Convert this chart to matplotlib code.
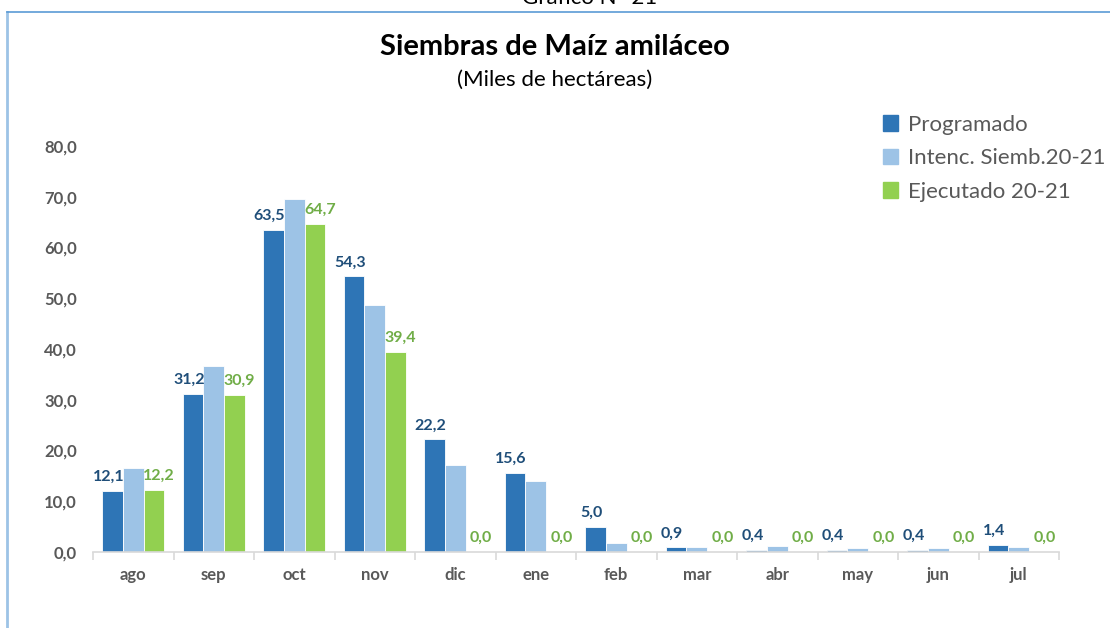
import matplotlib.pyplot as plt
import numpy as np
from matplotlib.patches import Patch

plt.rcParams['font.family'] = ['Lato', 'DejaVu Sans']

# data (miles de hectareas)
meses = ["ago", "sep", "oct", "nov", "dic", "ene", "feb", "mar", "abr", "may", "jun", "jul"]
programado = [12.1, 31.2, 63.5, 54.3, 22.2, 15.6, 5.0, 0.9, 0.4, 0.4, 0.4, 1.4]
intencion = [16.6, 36.7, 69.6, 48.7, 17.2, 14.0, 1.8, 0.9, 1.2, 0.7, 0.7, 0.9]
ejecutado = [12.2, 30.9, 64.7, 39.4, 0.0, 0.0, 0.0, 0.0, 0.0, 0.0, 0.0, 0.0]
yticks = [0, 10, 20, 30, 40, 50, 60, 70, 80]

c_prog = "#2E75B6"
c_int = "#9DC3E6"
c_eje = "#92D050"
lab_prog = "#1F4E79"
lab_eje = "#70AD47"
gris = "#595959"

fig = plt.figure(figsize=(11.1, 6.28), dpi=100)
ax = fig.add_axes([93 / 1110, 1 - 552 / 628, 966 / 1110, 406 / 628])

x = np.arange(len(meses))
w = 0.257
b1 = ax.bar(x - w, programado, w, color=c_prog, edgecolor="white", linewidth=0.6)
b2 = ax.bar(x, intencion, w, color=c_int, edgecolor="white", linewidth=0.6)
b3 = ax.bar(x + w, ejecutado, w, color=c_eje, edgecolor="white", linewidth=0.6)

fmt = lambda v: f"{v:.1f}".replace(".", ",")
for rect, v in zip(b1, programado):
    ax.annotate(fmt(v), (rect.get_x() + rect.get_width() / 2 - 0.05, v), xytext=(0, 5),
                textcoords="offset points", ha="center", va="bottom",
                fontsize=11.5, fontweight="bold", color=lab_prog)
for rect, v in zip(b3, ejecutado):
    ax.annotate(fmt(v), (rect.get_x() + rect.get_width() / 2 + 0.06, v), xytext=(0, 5),
                textcoords="offset points", ha="center", va="bottom",
                fontsize=11.5, fontweight="bold", color=lab_eje)

ax.set_xlim(-0.5, len(meses) - 0.5)
ax.set_ylim(0, 80)
ax.set_yticks(yticks)
ax.set_yticklabels([fmt(t) for t in yticks], fontsize=12, fontweight="bold", color=gris)
ax.set_xticks(x)
ax.set_xticklabels(meses, fontsize=12, fontweight="bold", color=gris)
ax.tick_params(axis="y", length=0, pad=11.5)
ax.tick_params(axis="x", length=0, pad=11)
# separator ticks between categories
ax.set_xticks(np.arange(-0.5, len(meses)), minor=True)
ax.tick_params(axis="x", which="minor", length=6, color="#D9D9D9", width=1.2)
for s in ["top", "right", "left"]:
    ax.spines[s].set_visible(False)
ax.spines["bottom"].set_color("#D9D9D9")
ax.spines["bottom"].set_linewidth(1.2)

fig.text(0.5, 1 - 47 / 628, "Siembras de Maíz amiláceo", ha="center", va="center",
         fontsize=21, fontweight="bold", color="black")
fig.text(0.5, 1 - 80 / 628, "(Miles de hectáreas)", ha="center", va="center",
         fontsize=16, color="black")
fig.text(590 / 1110, 1 - 4 / 628, "Gráfico N° 21", ha="center", va="baseline",
         fontsize=16, color="black")

# frame
fig.add_artist(plt.Line2D([7 / 1110, 7 / 1110], [0, 1 - 11.5 / 628],
                          transform=fig.transFigure, color="#9DC3E6", linewidth=2))
fig.add_artist(plt.Line2D([7 / 1110, 1], [1 - 11.5 / 628, 1 - 11.5 / 628],
                          transform=fig.transFigure, color="#5B9BD5", linewidth=1.2))

handles = [Patch(color=c_prog), Patch(color=c_int), Patch(color=c_eje)]
fig.legend(handles, ["Programado", "Intenc. Siemb.20-21", "Ejecutado 20-21"],
           loc="upper left", bbox_to_anchor=(874 / 1110, 1 - 106 / 628), frameon=False,
           fontsize=16, handlelength=0.7, handleheight=0.7, handletextpad=0.45,
           labelspacing=0.6, labelcolor=gris, borderaxespad=0)

fig.savefig("out.png", dpi=100)
